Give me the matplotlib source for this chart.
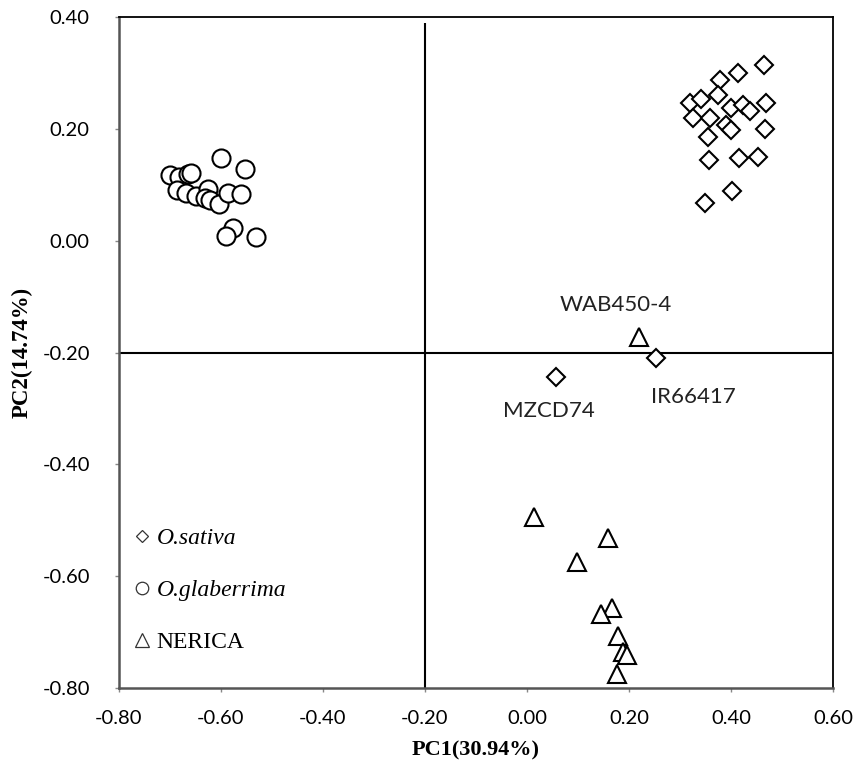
import matplotlib.pyplot as plt
from matplotlib.lines import Line2D

# O.sativa (diamonds)
sativa_x = [0.464, 0.414, 0.379, 0.320, 0.342, 0.375, 0.469, 0.326, 0.359, 0.391, 0.401,
            0.401, 0.424, 0.437, 0.355, 0.466, 0.357, 0.415, 0.453, 0.403, 0.349, 0.253, 0.057]
sativa_y = [0.315, 0.299, 0.287, 0.246, 0.253, 0.260, 0.246, 0.219, 0.219, 0.207, 0.198,
            0.237, 0.243, 0.231, 0.186, 0.199, 0.145, 0.148, 0.150, 0.088, 0.067, -0.209, -0.243]

# O.glaberrima (circles)
glab_x = [-0.599, -0.552, -0.700, -0.682, -0.665, -0.658, -0.687, -0.668, -0.649,
          -0.625, -0.632, -0.622, -0.603, -0.586, -0.560, -0.577, -0.591, -0.532]
glab_y = [0.148, 0.128, 0.117, 0.113, 0.120, 0.121, 0.091, 0.085, 0.079,
          0.092, 0.076, 0.073, 0.065, 0.085, 0.083, 0.022, 0.008, 0.007]

# NERICA (triangles)
nerica_x = [0.220, 0.013, 0.159, 0.098, 0.166, 0.146, 0.178, 0.189, 0.196, 0.176]
nerica_y = [-0.172, -0.494, -0.531, -0.574, -0.656, -0.667, -0.707, -0.735, -0.741, -0.775]

# labelled points
labels = ['WAB450-4', 'IR66417', 'MZCD74']
label_x = [0.175, 0.327, 0.043]
label_y = [-0.115, -0.280, -0.305]

x_ticks = [-0.8, -0.6, -0.4, -0.2, 0.0, 0.2, 0.4, 0.6]
y_ticks = [-0.8, -0.6, -0.4, -0.2, 0.0, 0.2, 0.4]

fig = plt.figure(figsize=(8.54, 7.69), dpi=100)
ax = fig.add_axes([0.1393, 0.1053, 0.836, 0.8726])

mk = dict(linestyle='none', markerfacecolor='white', markeredgecolor='black', markeredgewidth=1.5)
ax.plot(sativa_x, sativa_y, marker='D', markersize=9, **mk)
ax.plot(glab_x, glab_y, marker='o', markersize=13, **mk)
ax.plot(nerica_x, nerica_y, marker='^', markersize=13, **mk)

# quadrant lines
ax.vlines(-0.2, -0.8, 0.39, color='black', linewidth=1.5, zorder=1)
ax.axhline(-0.2, color='black', linewidth=1.5, zorder=1)

for t, x, y in zip(labels, label_x, label_y):
    ax.text(x, y, t, fontsize=16, family='Lato', ha='center', va='center', color='#222222')

ax.set_xlim(-0.8, 0.6)
ax.set_ylim(-0.8, 0.4)
ax.set_xticks(x_ticks)
ax.set_yticks(y_ticks)
ax.set_xticklabels([f'{v:.2f}' for v in x_ticks], family='Lato', fontsize=14.5)
ax.set_yticklabels([f'{v:.2f}' for v in y_ticks], family='Lato', fontsize=14.5)
ax.tick_params(direction='out', length=3, width=1, color='#888888')
ax.tick_params(axis='x', pad=13)
ax.tick_params(axis='y', pad=18)

for s in ['left', 'bottom']:
    ax.spines[s].set_color('#555555')
    ax.spines[s].set_linewidth(1.8)
for s in ['top', 'right']:
    ax.spines[s].set_color('black')
    ax.spines[s].set_linewidth(1.3)

ax.set_xlabel('PC1(30.94%)', family='Liberation Serif', fontweight='bold', fontsize=16)
ax.set_ylabel('PC2(14.74%)', family='Liberation Serif', fontweight='bold', fontsize=16.5)
ax.xaxis.set_label_coords(0.5, -0.0925)
ax.yaxis.set_label_coords(-0.136, 0.5)
ax.xaxis.label.set_va('center')
ax.yaxis.label.set_va('center')

# legend
handles = [
    Line2D([], [], marker='D', markersize=6.5, linestyle='none', markerfacecolor='white',
           markeredgecolor='#333333', markeredgewidth=0.9),
    Line2D([], [], marker='o', markersize=9, linestyle='none', markerfacecolor='white',
           markeredgecolor='#333333', markeredgewidth=0.9),
    Line2D([], [], marker='^', markersize=10, linestyle='none', markerfacecolor='white',
           markeredgecolor='#333333', markeredgewidth=0.9),
]
leg = ax.legend(handles, ['O.sativa', 'O.glaberrima', 'NERICA'], loc='lower left',
                bbox_to_anchor=(-0.007, 0.02), frameon=False, handlelength=0.6,
                handletextpad=0.3, labelspacing=1.3,
                prop={'family': 'Liberation Serif', 'size': 17})
texts = leg.get_texts()
texts[0].set_fontstyle('italic')
texts[1].set_fontstyle('italic')

fig.savefig('out.png', dpi=100)
